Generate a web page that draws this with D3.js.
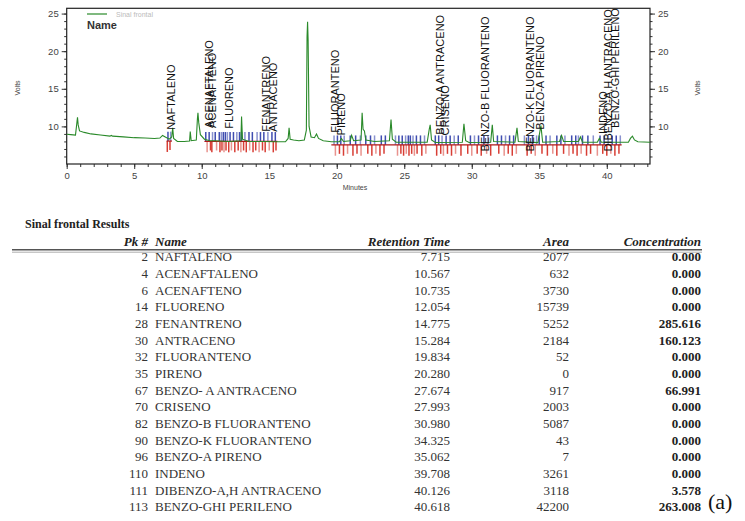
<!DOCTYPE html>
<html>
<head>
<meta charset="utf-8">
<script src="https://cdn.jsdelivr.net/npm/d3@7"></script>
<style>
  body { margin: 0; background: #fff; }
  svg { display: block; }
  .axis text { font-family: "Liberation Sans", Arial, sans-serif; font-size: 9.5px; fill: #444; }
  .axis path, .axis line { stroke: #333; }
  .peaklabel { font-family: "Liberation Sans", Arial, sans-serif; font-size: 11px; fill: #111; }
  .tbl { font-family: "Liberation Serif", "Times New Roman", serif; font-size: 13px; fill: #333; }
  .hdr { font-weight: bold; font-style: italic; fill: #222; }
</style>
</head>
<body>
<svg id="chart" width="745" height="521"></svg>
<script>
// chromatogram trace, [minutes, volts]
var trace = [
  [0,8.95],[0.3,8.9],[0.65,8.85],[0.75,10.4],[0.8,11.2],[0.85,10.2],[0.95,9.4],[1.3,9.2],[1.8,9.0],
  [2.5,8.85],[3.2,8.7],[3.3,8.8],[3.4,8.7],[4.2,8.6],[5.0,8.5],[5.8,8.45],[6.5,8.4],[6.9,8.45],
  [7.1,8.8],[7.3,8.6],[7.6,8.3],[7.78,8.6],[7.85,9.8],[7.92,8.4],[8.2,8.0],[8.7,8.0],[9.1,8.05],
  [9.15,9.3],[9.22,8.1],[9.6,8.2],[9.68,11.0],[9.72,11.8],[9.78,10.5],[9.9,8.9],[10.2,8.3],[10.6,8.1],
  [11,8.1],[12,8.0],[12.9,8.1],[12.95,11.3],[13.02,8.3],[13.5,8.0],[14.5,8.0],[15.5,7.95],[16.2,7.95],
  [16.4,8.4],[16.47,9.8],[16.55,8.3],[16.8,8.2],[17.2,8.1],[17.6,8.2],[17.75,9.5],[17.8,21.9],
  [17.84,23.9],[17.88,21.5],[17.95,10.0],[18.1,8.6],[18.35,8.5],[18.5,9.0],[18.65,8.4],[19.0,8.1],
  [19.6,7.95],[20.2,7.95],[20.35,8.4],[20.5,8.0],[21.0,8.1],[21.1,8.8],[21.25,8.1],[21.8,8.2],
  [21.88,11.8],[21.95,9.6],[22.05,9.4],[22.15,8.2],[22.8,8.0],[23.9,8.1],[24.02,10.9],[24.12,8.3],
  [24.4,7.9],[26.7,7.9],[26.85,9.6],[26.92,10.2],[27.02,8.2],[27.3,7.85],[29.3,7.9],[29.42,10.35],
  [29.55,8.1],[29.8,7.85],[31.4,7.9],[31.52,10.2],[31.62,8.0],[33.2,7.9],[33.35,9.8],[33.45,8.0],
  [34.9,7.85],[35.12,10.1],[35.25,7.9],[36.5,8.0],[36.65,8.8],[36.8,8.0],[37.9,8.0],[38.05,8.6],
  [38.2,7.9],[39.3,7.9],[39.45,8.4],[39.6,7.9],[41.6,7.9],[41.75,8.4],[41.9,8.7],[42.05,8.2],
  [42.3,7.95],[43.2,7.9]
];

// integration baselines [start, end, volts]
var baselines = [[7.4,7.8,8.05],[10.2,15.6,8.0],[19.6,41.1,7.55]];

var blueTicks = [7.5,7.7,10.3,10.55,10.8,11.0,11.3,11.45,11.6,11.75,11.9,12.1,12.35,12.6,12.8,12.95,
  13.2,13.5,13.75,14.1,14.35,14.6,14.9,15.2,15.45,19.8,20.05,20.3,20.55,21.0,21.4,21.75,22.15,22.5,
  22.8,23.3,23.6,24.35,24.6,24.85,25.1,25.3,25.45,25.65,25.9,26.2,26.5,27.3,27.55,27.8,28.1,28.4,
  28.7,29.0,29.9,30.2,30.5,30.9,31.2,31.9,32.2,32.5,32.8,33.1,33.9,34.2,34.5,34.8,35.0,35.5,35.8,
  36.3,36.6,36.9,37.4,37.7,37.9,38.2,38.6,39.0,39.5,39.8,40.1,40.4,40.7,41.0];
var redTicks = [7.45,7.65,10.4,10.65,10.75,11.1,11.35,11.5,11.65,11.8,12.0,12.2,12.45,12.7,12.9,
  13.1,13.3,13.55,13.8,14.0,14.25,14.5,14.7,15.0,15.3,15.5,19.9,20.2,20.5,20.8,21.2,21.5,21.8,22.3,
  22.6,22.9,23.2,23.5,24.5,24.75,24.95,25.15,25.35,25.55,25.75,25.95,26.3,26.6,27.4,27.7,27.9,28.2,
  28.5,28.8,29.2,29.7,30.0,30.4,30.7,31.1,31.4,32.0,32.4,32.7,33.0,33.3,34.1,34.4,34.7,35.2,35.6,
  36.0,36.3,36.8,37.2,37.5,37.8,38.1,38.5,38.8,39.3,39.7,40.0,40.3,40.6,40.9];

// peak labels: name on chart, retention time, volts where the label starts
var labelNames = ["NAFTALENO","ACENAFTALENO","ACENAFTENO","FLUORENO","FENANTRENO","ANTRACENO",
  "FLUORANTENO","PIRENO","BENZO-A ANTRACENO","CRISENO","BENZO-B FLUORANTENO","BENZO-K FLUORANTENO",
  "BENZO-A PIRENO","INDENO","DIBENZO-A,H ANTRACENO","BENZO-GHI PERILENO"];
var labelBaseV = [9.56,9.8,9.8,9.7,9.3,9.3,9.15,8.8,8.9,8.8,6.65,6.65,9.56,9.0,6.65,9.8];

// results table
var pk = [2,4,6,14,28,30,32,35,67,70,82,90,96,110,111,113];
var names = ["NAFTALENO","ACENAFTALENO","ACENAFTENO","FLUORENO","FENANTRENO","ANTRACENO",
  "FLUORANTENO","PIRENO","BENZO- A ANTRACENO","CRISENO","BENZO-B FLUORANTENO","BENZO-K FLUORANTENO",
  "BENZO-A PIRENO","INDENO","DIBENZO-A,H ANTRACENO","BENZO-GHI PERILENO"];
var retTime = [7.715,10.567,10.735,12.054,14.775,15.284,19.834,20.280,27.674,27.993,30.980,34.325,
  35.062,39.708,40.126,40.618];
var area = [2077,632,3730,15739,5252,2184,52,0,917,2003,5087,43,7,3261,3118,42200];
var conc = [0,0,0,0,285.616,160.123,0,0,66.991,0,0,0,0,0,3.578,263.008];

var svg = d3.select("#chart");
var x = d3.scaleLinear().domain([0, 43.2]).range([66.7, 650]);
var y = d3.scaleLinear().domain([5, 25.7]).range([164, 8.3]);

// minor ticks first
svg.append("g").attr("class", "axis").attr("transform", "translate(0,164)")
  .call(d3.axisBottom(x).tickValues(d3.range(0, 44, 1)).tickSize(3).tickFormat(""));
svg.append("g").attr("class", "axis").attr("transform", "translate(66.7,0)")
  .call(d3.axisLeft(y).tickValues(d3.range(6, 26, 1)).tickSize(2.5).tickFormat(""));
svg.append("g").attr("class", "axis").attr("transform", "translate(650,0)")
  .call(d3.axisRight(y).tickValues(d3.range(6, 26, 1)).tickSize(2.5).tickFormat(""));

svg.append("g").attr("class", "axis").attr("transform", "translate(0,164)")
  .call(d3.axisBottom(x).tickValues(d3.range(0, 45, 5)).tickSize(5).tickPadding(3));
svg.append("g").attr("class", "axis").attr("transform", "translate(66.7,0)")
  .call(d3.axisLeft(y).tickValues([10,15,20,25]).tickSize(5).tickPadding(3));
svg.append("g").attr("class", "axis").attr("transform", "translate(650,0)")
  .call(d3.axisRight(y).tickValues([10,15,20,25]).tickSize(5).tickPadding(3));
svg.selectAll(".axis .domain").remove();

svg.append("rect")
  .attr("x", x(0)).attr("y", y(25.7))
  .attr("width", x(43.2) - x(0)).attr("height", y(5) - y(25.7))
  .attr("fill", "none").attr("stroke", "#222").attr("stroke-width", 1.2);

var baseAt = function(t) {
  for (var i = 0; i < baselines.length; i++) {
    if (t >= baselines[i][0] - 0.2 && t <= baselines[i][1] + 0.2) return baselines[i][2];
  }
  return 7.8;
};

// integration event marks
svg.append("g").selectAll("line").data(blueTicks).enter().append("line")
  .attr("x1", function(d) { return x(d); }).attr("x2", function(d) { return x(d); })
  .attr("y1", function(d) { return y(baseAt(d)); })
  .attr("y2", function(d) { return y(baseAt(d) + 1.25); })
  .attr("stroke", "#2b3aa8").attr("stroke-width", 1.5)
  .attr("opacity", function(d, i) { return i % 3 == 1 ? 0.55 : 0.9; });

svg.append("g").selectAll("line").data(redTicks).enter().append("line")
  .attr("x1", function(d) { return x(d); }).attr("x2", function(d) { return x(d); })
  .attr("y1", function(d) { return y(baseAt(d)); })
  .attr("y2", function(d, i) { return y(baseAt(d) - (i % 2 ? 1.2 : 1.45)); })
  .attr("stroke", "#d42a20").attr("stroke-width", 1.5)
  .attr("opacity", function(d, i) { return i % 3 == 2 ? 0.5 : 0.9; });

svg.append("g").selectAll("line").data(baselines).enter().append("line")
  .attr("x1", function(d) { return x(d[0]); }).attr("x2", function(d) { return x(d[1]); })
  .attr("y1", function(d) { return y(d[2]); }).attr("y2", function(d) { return y(d[2]); })
  .attr("stroke", "#b01818").attr("stroke-width", 1.2);

svg.append("path").datum(trace)
  .attr("d", d3.line().x(function(d) { return x(d[0]); }).y(function(d) { return y(d[1]); }))
  .attr("fill", "none").attr("stroke", "#2a8a2a").attr("stroke-width", 1.1);

// peak names
svg.append("g").selectAll("text").data(labelNames).enter().append("text")
  .attr("class", "peaklabel")
  .attr("transform", function(d, i) {
    return "translate(" + (x(retTime[i]) + 4) + "," + y(labelBaseV[i]) + ") rotate(-90)";
  })
  .text(function(d) { return d; });

// legend
svg.append("line").attr("x1", 87).attr("x2", 107).attr("y1", 14).attr("y2", 14)
  .attr("stroke", "#2a8a2a").attr("stroke-width", 1.2);
svg.append("text").attr("x", 116).attr("y", 16.5).text("Sinal frontal")
  .style("font-family", "Liberation Sans, Arial").style("font-size", "7px").style("fill", "#bbb");
svg.append("text").attr("x", 87).attr("y", 29).text("Name")
  .style("font-family", "Liberation Sans, Arial").style("font-size", "11px")
  .style("font-weight", "bold").style("fill", "#333");

// axis titles
svg.append("text").attr("transform", "translate(20,88) rotate(-90)").attr("text-anchor", "middle")
  .text("Volts").style("font-family", "Liberation Sans, Arial").style("font-size", "7px").style("fill", "#444");
svg.append("text").attr("transform", "translate(700,88) rotate(-90)").attr("text-anchor", "middle")
  .text("Volts").style("font-family", "Liberation Sans, Arial").style("font-size", "7px").style("fill", "#444");
svg.append("text").attr("x", 355).attr("y", 190).attr("text-anchor", "middle")
  .text("Minutes").style("font-family", "Liberation Sans, Arial").style("font-size", "7px").style("fill", "#444");

// results table
var tbl = svg.append("g");
tbl.append("text").attr("class", "tbl").attr("x", 25).attr("y", 227.5)
  .style("font-weight", "bold").style("font-size", "12px").style("fill", "#222")
  .text("Sinal frontal Results");

var cols = [
  { label: "Pk #", x: 148, anchor: "end" },
  { label: "Name", x: 155, anchor: "start" },
  { label: "Retention Time", x: 450, anchor: "end" },
  { label: "Area", x: 569, anchor: "end" },
  { label: "Concentration", x: 701, anchor: "end" }
];
tbl.selectAll(".hdr").data(cols).enter().append("text")
  .attr("class", "tbl hdr")
  .attr("x", function(d) { return d.x; }).attr("y", 245.5)
  .attr("text-anchor", function(d) { return d.anchor; })
  .text(function(d) { return d.label; });
tbl.append("line").attr("x1", 12).attr("x2", 702).attr("y1", 249.8).attr("y2", 249.8)
  .attr("stroke", "#555").attr("stroke-width", 1.6);
tbl.append("line").attr("x1", 12).attr("x2", 702).attr("y1", 252.2).attr("y2", 252.2)
  .attr("stroke", "#999").attr("stroke-width", 0.8);

var rowY = d3.scaleLinear().domain([0, 15]).range([261.2, 511.2]);
var rows = tbl.selectAll(".row").data(pk).enter().append("g");
rows.append("text").attr("class", "tbl").attr("x", 148).attr("text-anchor", "end")
  .attr("y", function(d, i) { return rowY(i); }).text(function(d) { return d; });
rows.append("text").attr("class", "tbl").attr("x", 155)
  .attr("y", function(d, i) { return rowY(i); }).text(function(d, i) { return names[i]; });
rows.append("text").attr("class", "tbl").attr("x", 450).attr("text-anchor", "end")
  .attr("y", function(d, i) { return rowY(i); }).text(function(d, i) { return retTime[i].toFixed(3); });
rows.append("text").attr("class", "tbl").attr("x", 569).attr("text-anchor", "end")
  .attr("y", function(d, i) { return rowY(i); }).text(function(d, i) { return area[i]; });
rows.append("text").attr("class", "tbl").attr("x", 701).attr("text-anchor", "end")
  .attr("y", function(d, i) { return rowY(i); })
  .style("font-weight", "bold").style("fill", "#222")
  .text(function(d, i) { return conc[i].toFixed(3); });

svg.append("text").attr("x", 708).attr("y", 509)
  .style("font-family", "Liberation Serif, Times New Roman, serif").style("font-size", "22px").style("fill", "#111")
  .text("(a)");
</script>
</body>
</html>
